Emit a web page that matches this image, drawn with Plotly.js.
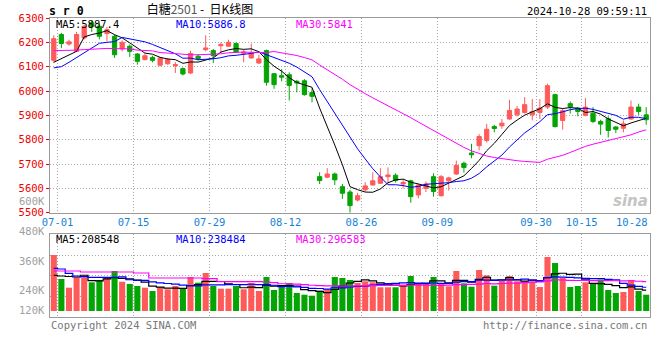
<!DOCTYPE html>
<html><head><meta charset="utf-8">
<script src="https://cdn.plot.ly/plotly-3.0.1.min.js"></script>
<style>html,body{margin:0;padding:0;background:#fff}#chart{width:660px;height:360px}</style>
</head><body><div id="chart"></div>
<script>
// ---- data ----
const dates = [
 '07-01','07-02','07-03','07-04','07-05','07-08','07-09','07-10','07-11','07-12',
 '07-15','07-16','07-17','07-18','07-19','07-22','07-23','07-24','07-25','07-26',
 '07-29','07-30','07-31','08-01','08-02','08-05','08-06','08-07','08-08','08-09',
 '08-12','08-13','08-14','08-15','08-16','08-19','08-20','08-21','08-22','08-23',
 '08-26','08-27','08-28','08-29','08-30','09-02','09-03','09-04','09-05','09-06',
 '09-09','09-10','09-11','09-12','09-13','09-18','09-19','09-20','09-23','09-24',
 '09-25','09-26','09-27','09-30','10-08','10-09','10-10','10-11','10-14','10-15',
 '10-16','10-17','10-18','10-21','10-22','10-23','10-24','10-25','10-28'];
const openPx = [6126,6232,6193,6163,6218,6280,6266,6236,6225,6173, 6184,6152,6129,6138,6106,6112,6104,6092,6074,6143,
 6170,6166,6186,6184,6195,6155,6136,6115,6166,6071, 6063,6067,6040,6042,5994,5648,5646,5659,5607,5585,
 5552,5594,5614,5621,5648,5654,5618,5631,5573,5600, 5648,5570,5631,5659,5703,5745,5775,5797,5854,5857,
 5885,5902,5912,5902,5912,5934,5985,5879,5948,5930, 5900,5909,5875,5886,5852,5847,5885,5934,5902];
const highPx = [6229,6239,6211,6243,6272,6290,6280,6263,6232,6208, 6191,6156,6154,6145,6140,6136,6119,6097,6166,6152,
 6229,6173,6200,6211,6200,6170,6195,6149,6170,6074, 6090,6077,6046,6049,6012,5666,5683,5665,5618,5594,
 5582,5625,5666,5683,5686,5662,5637,5635,5618,5628, 5662,5655,5648,5714,5710,5783,5823,5865,5861,5885,
 5964,5939,5975,5967,5967,6030,5989,5926,5957,5934, 5971,5934,5882,5896,5857,5879,5961,5948,5934];
const lowPx = [6115,6176,6186,6160,6212,6243,6212,6204,6136,6163, 6140,6108,6126,6118,6101,6108,6074,6064,6070,6125,
 6163,6115,6156,6181,6156,6118,6132,6111,6022,6009, 6040,5961,5994,5981,5953,5618,5642,5614,5557,5500,
 5546,5587,5611,5618,5621,5624,5600,5541,5559,5585, 5566,5566,5591,5655,5665,5724,5756,5788,5830,5845,
 5882,5896,5907,5879,5885,5926,5850,5841,5907,5896, 5896,5868,5820,5809,5827,5830,5882,5902,5861];
const closePx = [6215,6195,6202,6232,6266,6266,6225,6252,6149,6200, 6163,6122,6145,6126,6136,6129,6108,6070,6154,6133,
 6177,6145,6191,6200,6160,6160,6156,6132,6036,6026, 6057,6023,6033,5985,5978,5632,5659,5635,5580,5529,
 5570,5610,5631,5648,5655,5632,5624,5566,5614,5618, 5587,5648,5643,5694,5686,5738,5813,5843,5846,5868,
 5920,5926,5944,5915,5930,6022,5854,5919,5935,5916, 5934,5875,5864,5838,5843,5865,5934,5916,5882];
const volume = [560000,320000,233000,337000,337000,287000,310000,337000,400000,293000,
 270000,250000,233000,200000,240000,217000,250000,227000,340000,283000,
 380000,250000,223000,223000,250000,217000,280000,200000,340000,210000,
 240000,280000,180000,163000,153000,203000,217000,340000,330000,310000,
 280000,297000,287000,237000,237000,237000,263000,350000,280000,270000,
 340000,270000,247000,400000,277000,243000,410000,357000,253000,300000,
 350000,297000,297000,297000,240000,540000,480000,330000,240000,250000,
 287000,270000,317000,210000,180000,190000,310000,200000,163000];
const ma5Early = [6118,6132,6147,6163];
const ma10Early = [6095,6100,6118,6138,6157,6177,6196,6200,6203];
const ma30Early = [6166,6166,6166,6168,6170,6172,6175,6175,6174,6173,6173,6168,6167,6165,6158,
 6155,6153,6150,6149,6149,6150,6151,6153,6157,6160,6160,6159,6159,6158];
const vma5Early = [357000,350000,345000,340000];
const vma10Early = [427000,420000,377000,350000,343000,337000,337000,337000,337000];
const vma30Early = [400000,400000,400000,400000,390000,390000,390000,390000,390000,390000,
 390000,380000,380000,330000,330000,330000,330000,330000,330000,330000,
 323000,323000,293000,293000,293000,293000,293000,293000,290000];
const dateTicks = ['07-01','07-15','07-29','08-12','08-26','09-09','09-30','10-15'];
const lastDate = '10-28';
const priceTicks = [5500,5600,5700,5800,5900,6000,6100,6200,6300];
const priceLegend = ['MA5:5887.4','MA10:5886.8','MA30:5841'];
const volLegend = ['MA5:208548','MA10:238484','MA30:296583'];
const volAxisLabels = ['600K','480K','360K','240K','120K'];

// ---- styles ----
const RED = '#ff5a5a', GREEN = '#04a404', MONO = 'DejaVu Sans Mono, monospace';
const GRID = '#a8a8a8', BORDER = '#9a9a9a';
const MA_COLORS = ['#000000', '#0000ff', '#ff00ff'];

const idx = dates.map((d, i) => i);
const movAvg = (arr, n, early) => arr.map((v, i) => i < n - 1 ? early[i] :
  arr.slice(i - n + 1, i + 1).reduce((a, b) => a + b, 0) / n);

const ma = [movAvg(closePx, 5, ma5Early), movAvg(closePx, 10, ma10Early), movAvg(closePx, 30, ma30Early)];
const vma = [movAvg(volume, 5, vma5Early), movAvg(volume, 10, vma10Early), movAvg(volume, 30, vma30Early)];
const volColors = closePx.map((c, i) => c >= openPx[i] ? RED : GREEN);

const traces = [{
  type: 'candlestick', x: idx, open: openPx, high: highPx, low: lowPx, close: closePx,
  xaxis: 'x', yaxis: 'y', hoverinfo: 'skip', whiskerwidth: 0,
  increasing: {line: {color: RED, width: 1}, fillcolor: RED},
  decreasing: {line: {color: GREEN, width: 1}, fillcolor: GREEN}
}];
ma.forEach((m, k) => traces.push({type: 'scatter', mode: 'lines', x: idx, y: m, xaxis: 'x', yaxis: 'y',
  line: {color: MA_COLORS[k], width: 1}, hoverinfo: 'skip'}));
traces.push({type: 'bar', x: idx, y: volume, xaxis: 'x2', yaxis: 'y2', marker: {color: volColors, line: {width: 0}}, hoverinfo: 'skip'});
vma.forEach((m, k) => traces.push({type: 'scatter', mode: 'lines', x: idx, y: m, xaxis: 'x2', yaxis: 'y2',
  line: {color: MA_COLORS[k], width: 1.2, shape: 'hvh'}, hoverinfo: 'skip'}));

const gridVals = dateTicks.map(d => dates.indexOf(d) + 0.5);
const xCommon = {range: [-0.5, dates.length - 0.5], tickmode: 'array', tickvals: gridVals, ticktext: dateTicks,
  showgrid: true, gridcolor: GRID, griddash: '1px,2px', gridwidth: 1, zeroline: false,
  showline: true, linecolor: BORDER, linewidth: 1, mirror: true, ticks: '', fixedrange: true};

const H = 299, T = 18; // plot area height & top in px
const py = px => (T + H - px) / H;   // page pixel -> paper y
const pxX = px => (px - 50) / 600;   // page pixel -> paper x

const ann = [];
priceLegend.forEach((t, k) => ann.push({xref: 'paper', yref: 'paper', x: pxX(54 + 120 * k), y: py(24.5), xanchor: 'left', yanchor: 'middle',
  text: t, showarrow: false, font: {family: MONO, size: 10.5, color: MA_COLORS[k]}}));
volLegend.forEach((t, k) => ann.push({xref: 'paper', yref: 'paper', x: pxX(54 + 120 * k), y: py(238.5), xanchor: 'left', yanchor: 'middle',
  text: t, showarrow: false, font: {family: MONO, size: 10.5, color: MA_COLORS[k]}}));
[201, 231, 261, 290, 310].forEach((yy, k) => ann.push({xref: 'paper', yref: 'paper', x: pxX(46.5), y: py(yy), xanchor: 'right', yanchor: 'middle',
  text: volAxisLabels[k], showarrow: false, font: {family: MONO, size: 10.5, color: '#a0a0a0'}}));
ann.push({xref: 'paper', yref: 'paper', x: 1, y: py(221.5), xanchor: 'right', yanchor: 'middle', text: lastDate,
  showarrow: false, font: {family: MONO, size: 10.5, color: '#1683d6'}});
ann.push({xref: 'paper', yref: 'paper', x: pxX(47), y: py(11), xanchor: 'left', yanchor: 'middle', text: '<b>s r 0</b>',
  showarrow: false, font: {family: MONO, size: 11.5, color: '#000'}});
ann.push({xref: 'paper', yref: 'paper', x: pxX(649), y: py(11.5), xanchor: 'right', yanchor: 'middle', text: '2024-10-28 09:59:11',
  showarrow: false, font: {family: MONO, size: 10.5, color: '#000'}});
ann.push({xref: 'paper', yref: 'paper', x: pxX(49), y: py(324.5), xanchor: 'left', yanchor: 'middle', text: 'Copyright 2024 SINA.COM',
  showarrow: false, font: {family: MONO, size: 10.5, color: '#777'}});
ann.push({xref: 'paper', yref: 'paper', x: pxX(649), y: py(324.5), xanchor: 'right', yanchor: 'middle', text: 'http://finance.sina.com.cn',
  showarrow: false, font: {family: MONO, size: 10.5, color: '#777'}});
ann.push({xref: 'paper', yref: 'paper', x: pxX(650), y: py(201), xanchor: 'right', yanchor: 'middle', text: '<b><i>sina</i></b>',
  showarrow: false, font: {family: 'DejaVu Sans, sans-serif', size: 15, color: '#c4c4c4'}});

const layout = {
  width: 660, height: 360, margin: {l: 50, r: 10, t: T, b: 360 - T - H},
  paper_bgcolor: '#fff', plot_bgcolor: '#fff', showlegend: false, hovermode: false, dragmode: false,
  bargap: 0.2, boxgap: 0.2,
  font: {family: MONO, size: 10.5, color: '#000'},
  title: {text: '白糖<span style="color:#555">2501</span> -  日K线图', x: 200 / 660, xanchor: 'center', xref: 'container',
    y: 1 - 9.5 / 360, yanchor: 'middle', yref: 'container', font: {family: 'Noto Sans CJK SC, sans-serif', size: 12, color: '#000'}},
  xaxis: Object.assign({}, xCommon, {domain: [0, 1], anchor: 'y', rangeslider: {visible: false},
    tickfont: {family: MONO, size: 10.5, color: '#1683d6'}}),
  yaxis: {domain: [py(212.7), 1], range: [5500, 6300], anchor: 'x', tickmode: 'array', tickvals: priceTicks,
    tickfont: {family: MONO, size: 10.5, color: '#ee0000'}, ticks: 'outside', ticklen: 3, tickcolor: '#ee0000',
    showgrid: true, gridcolor: GRID, griddash: '1px,2px', zeroline: false,
    showline: true, linecolor: BORDER, linewidth: 1, mirror: true, fixedrange: true},
  xaxis2: Object.assign({}, xCommon, {domain: [0, 1], anchor: 'y2', showticklabels: false}),
  yaxis2: {domain: [0, py(234.3)], range: [-60000, 767000], anchor: 'x2', tickmode: 'array', tickvals: [150000, 355000, 560000],
    showticklabels: false, ticks: '', showgrid: true, gridcolor: GRID, griddash: '1px,2px', zeroline: false,
    showline: true, linecolor: BORDER, linewidth: 1, mirror: true, fixedrange: true},
  annotations: ann
};
Plotly.newPlot('chart', traces, layout, {staticPlot: true, displayModeBar: false});
</script></body></html>
